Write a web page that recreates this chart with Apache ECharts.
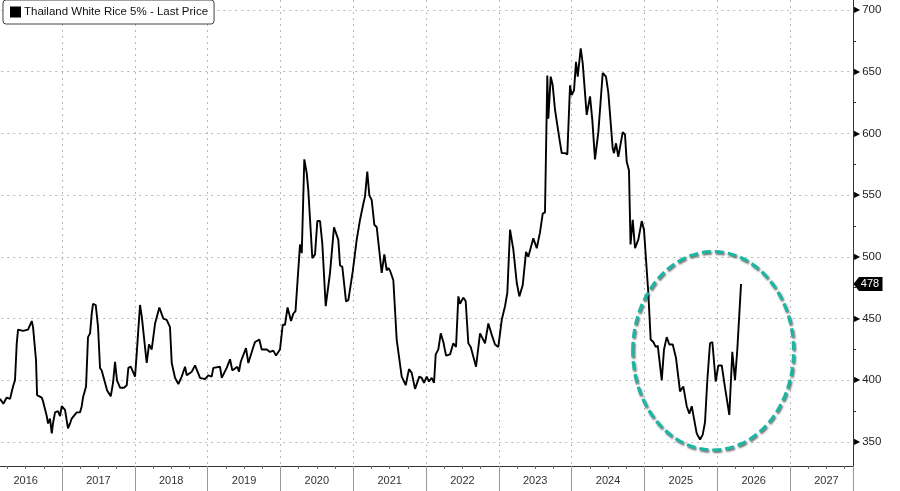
<!DOCTYPE html>
<html>
<head>
<meta charset="utf-8">
<title>Thailand White Rice 5%</title>
<script src="https://cdn.jsdelivr.net/npm/echarts@6/dist/echarts.min.js"></script>
<style>
  html, body { margin: 0; padding: 0; background: #fff; }
  #main { width: 900px; height: 491px; }
</style>
</head>
<body>
<div id="main"></div>
<script type="text/javascript">
    // 数据：周度价格（x 为小数年份）
    var seriesName = 'Thailand White Rice 5% - Last Price';
    var years = [
        2016.148,2016.194,2016.240,2016.286,2016.327,2016.354,2016.378,2016.396,2016.464,2016.533,
        2016.584,2016.602,2016.643,2016.657,2016.721,2016.739,2016.790,2016.808,2016.835,2016.859,
        2016.876,2016.904,2016.945,2016.973,2016.996,2017.041,2017.082,2017.110,2017.133,2017.151,
        2017.202,2017.247,2017.271,2017.288,2017.330,2017.357,2017.385,2017.408,2017.426,2017.463,
        2017.495,2017.522,2017.545,2017.591,2017.618,2017.669,2017.701,2017.728,2017.755,2017.797,
        2017.852,2017.889,2017.911,2017.944,2018.003,2018.030,2018.071,2018.095,2018.163,2018.195,
        2018.232,2018.278,2018.337,2018.392,2018.438,2018.483,2018.507,2018.552,2018.598,2018.644,
        2018.690,2018.713,2018.782,2018.827,2018.896,2018.964,2019.010,2019.056,2019.078,2019.170,
        2019.194,2019.262,2019.308,2019.339,2019.408,2019.431,2019.455,2019.527,2019.559,2019.628,
        2019.651,2019.710,2019.743,2019.812,2019.857,2019.902,2019.940,2019.994,2020.032,2020.063,
        2020.098,2020.146,2020.177,2020.207,2020.269,2020.293,2020.328,2020.361,2020.383,2020.407,
        2020.438,2020.475,2020.507,2020.544,2020.575,2020.622,2020.681,2020.736,2020.795,2020.819,
        2020.850,2020.901,2020.933,2020.993,2021.048,2021.093,2021.139,2021.162,2021.193,2021.221,
        2021.254,2021.290,2021.323,2021.391,2021.427,2021.460,2021.482,2021.505,2021.551,2021.597,
        2021.666,2021.721,2021.766,2021.803,2021.849,2021.908,2021.941,2021.972,2022.010,2022.041,
        2022.078,2022.110,2022.133,2022.169,2022.202,2022.238,2022.275,2022.330,2022.375,2022.412,
        2022.444,2022.467,2022.512,2022.545,2022.581,2022.614,2022.687,2022.742,2022.810,2022.856,
        2022.902,2022.948,2022.993,2023.040,2023.085,2023.117,2023.154,2023.199,2023.246,2023.282,
        2023.328,2023.374,2023.405,2023.474,2023.521,2023.566,2023.603,2023.634,2023.666,2023.680,
        2023.713,2023.740,2023.772,2023.831,2023.864,2023.909,2023.941,2023.978,2024.001,2024.033,
        2024.060,2024.084,2024.125,2024.152,2024.207,2024.253,2024.284,2024.321,2024.367,2024.390,
        2024.427,2024.472,2024.504,2024.564,2024.582,2024.610,2024.641,2024.702,2024.733,2024.757,
        2024.788,2024.809,2024.839,2024.871,2024.916,2024.963,2024.994,2025.053,2025.086,2025.122,
        2025.155,2025.183,2025.238,2025.269,2025.306,2025.342,2025.389,2025.434,2025.489,2025.534,
        2025.581,2025.617,2025.650,2025.681,2025.718,2025.764,2025.801,2025.832,2025.864,2025.901,
        2025.933,2025.979,2026.015,2026.062,2026.107,2026.166,2026.207,2026.244,2026.276,2026.327
    ];
    var prices = [
        385,381,386,385,395,400,430,441,440,441,
        448,443,416,388,386,383,371,365,369,357,
        365,374,375,371,379,376,361,365,369,368,
        374,374,379,386,395,435,438,454,462,461,
        443,410,408,398,392,387,398,415,400,394,
        394,396,410,411,403,425,461,452,414,429,
        425,446,459,450,449,443,414,402,397,403,
        411,404,407,412,402,401,404,403,410,411,
        402,410,417,408,411,407,415,426,414,427,
        431,433,425,425,423,424,420,425,445,445,
        459,448,454,456,510,503,579,568,554,554,
        499,502,529,529,511,460,487,524,514,493,
        492,464,465,488,514,530,543,549,569,550,
        546,526,524,487,502,489,491,489,481,433,
        403,396,409,406,393,403,402,398,403,399,
        402,398,421,425,438,431,420,421,430,427,
        468,462,467,464,430,427,411,438,430,446,
        437,429,427,449,460,471,522,506,479,468,
        477,504,500,515,507,520,535,536,647,612,
        646,639,619,596,584,584,583,639,631,635,
        658,646,669,657,615,630,611,579,601,600,
        649,646,633,588,584,592,581,601,599,577,
        570,510,530,507,514,529,522,471,433,431,
        427,428,400,425,435,429,429,418,391,395,
        379,373,379,369,357,352,356,366,400,430,
        431,399,412,412,394,372,423,400,425,478
    ];
    // 标注椭圆范围（数据坐标）
    var ringYears = [2024.84, 2027.05];
    var ringValues = [343.5, 504.2];

    // 轴范围
    var xMin = 2016, xMax = 2027.865, xVisible = 2016.148;
    var yMin = 350, yMax = 750, yStep = 50, yTopValue = 708.1;

    // 布局
    var W = 900, H = 491, plotRight = 853, axisY = 466;
    var pxPerYear = plotRight / (xMax - xVisible);
    var gridLeft = -(xVisible - xMin) * pxPerYear;
    var pxPerUnit = 432 / 350;
    var gridTop = -(yMax - yTopValue) * pxPerUnit;
    var gridBottom = H - (yTopValue - yMin) * pxPerUnit;

    var last = prices[prices.length - 1];
    var dotted = { color: '#b8b8b8', width: 1, type: [2, 4] };

    var myChart = echarts.init(document.getElementById('main'));
    var option = {
        animation: false,
        backgroundColor: '#fff',
        textStyle: { fontFamily: 'Liberation Sans, Arial, sans-serif' },
        legend: {
            data: [seriesName],
            left: 3, top: 0,
            icon: 'rect', itemWidth: 11, itemHeight: 11, itemGap: 4,
            padding: [6, 6, 6, 7],
            borderColor: '#444', borderWidth: 1, borderRadius: 3,
            backgroundColor: '#fff',
            selectedMode: false,
            textStyle: { fontSize: 11.5, color: '#111', padding: [0, 0, 0, -2] }
        },
        grid: [
            { left: gridLeft, right: W - plotRight, top: gridTop, bottom: gridBottom,
              outerBoundsMode: 'none', containLabel: false },
            { left: gridLeft, right: W - plotRight, top: 0, bottom: H - axisY,
              outerBoundsMode: 'none', containLabel: false }
        ],
        xAxis: [
            { type: 'value', gridIndex: 0, min: xMin, max: xMax, show: false },
            {
                type: 'value', gridIndex: 1, position: 'bottom', min: xMin, max: xMax, interval: 1,
                axisLine: { show: true, onZero: false, lineStyle: { color: '#333', width: 1 } },
                axisTick: { show: true, length: 25, lineStyle: { color: '#9a9a9a' } },
                minorTick: { show: true, splitNumber: 4, length: 3, lineStyle: { color: '#666' } },
                axisLabel: { show: false },
                splitLine: { show: true, lineStyle: dotted }
            },
            {
                type: 'value', gridIndex: 1, position: 'bottom', min: xMin, max: xMax, interval: 0.5,
                axisLine: { show: false }, axisTick: { show: false }, splitLine: { show: false },
                axisLabel: {
                    margin: 9, color: '#333', fontSize: 11,
                    fontFamily: 'Liberation Sans Narrow, Liberation Sans, sans-serif',
                    formatter: function (v) {
                        return Math.abs(v % 1 - 0.5) < 0.01 ? String(Math.floor(v)) : '';
                    }
                }
            }
        ],
        yAxis: [
            {
                type: 'value', gridIndex: 0, position: 'right', min: yMin, max: yMax, interval: yStep,
                axisLine: { show: false }, axisTick: { show: false },
                minorTick: { show: true, splitNumber: 2, length: 3, lineStyle: { color: '#333' } },
                splitLine: { show: true, lineStyle: dotted },
                axisLabel: {
                    margin: 1,
                    formatter: function (v) { return '{t|▶}{v|' + v + '}'; },
                    rich: {
                        t: { fontSize: 8, color: '#000', fontFamily: 'DejaVu Sans', padding: [0, 2, 0, 0] },
                        v: { fontSize: 11.5, color: '#222' }
                    }
                }
            },
            {
                type: 'value', gridIndex: 1, position: 'right', min: 0, max: 1,
                axisLine: { show: true, lineStyle: { color: '#333', width: 1 } },
                axisTick: { show: false }, axisLabel: { show: false }, splitLine: { show: false }
            }
        ],
        series: [{
            name: seriesName,
            type: 'line',
            xAxisIndex: 0, yAxisIndex: 0,
            data: years.map(function (y, i) { return [y, prices[i]]; }),
            symbol: 'none',
            lineStyle: { color: '#000', width: 1.9 },
            itemStyle: { color: '#000' },
            markPoint: {
                symbol: 'path://M0,7L6,0L32,0L32,14L6,14Z',
                symbolSize: [29, 14],
                symbolOffset: [15, 0],
                itemStyle: { color: '#000' },
                label: { show: true, color: '#fff', fontSize: 11, offset: [2, 0], formatter: '{c}' },
                data: [{ coord: [xMax, last], value: last }]
            }
        }]
    };
    myChart.setOption(option);

    // 椭圆标注：从数据坐标换算成像素
    var p1 = myChart.convertToPixel({ xAxisIndex: 0, yAxisIndex: 0 }, [ringYears[0], ringValues[1]]);
    var p2 = myChart.convertToPixel({ xAxisIndex: 0, yAxisIndex: 0 }, [ringYears[1], ringValues[0]]);
    myChart.setOption({
        graphic: [{
            type: 'ellipse',
            z: 50,
            shape: {
                cx: (p1[0] + p2[0]) / 2, cy: (p1[1] + p2[1]) / 2,
                rx: Math.abs(p2[0] - p1[0]) / 2, ry: Math.abs(p2[1] - p1[1]) / 2
            },
            style: {
                fill: 'none', stroke: '#1db5a3', lineWidth: 3.2, lineDash: [9, 4],
                shadowBlur: 2, shadowColor: 'rgba(60,60,60,0.75)', shadowOffsetX: 1, shadowOffsetY: 1.5
            }
        }]
    });
</script>
</body>
</html>
